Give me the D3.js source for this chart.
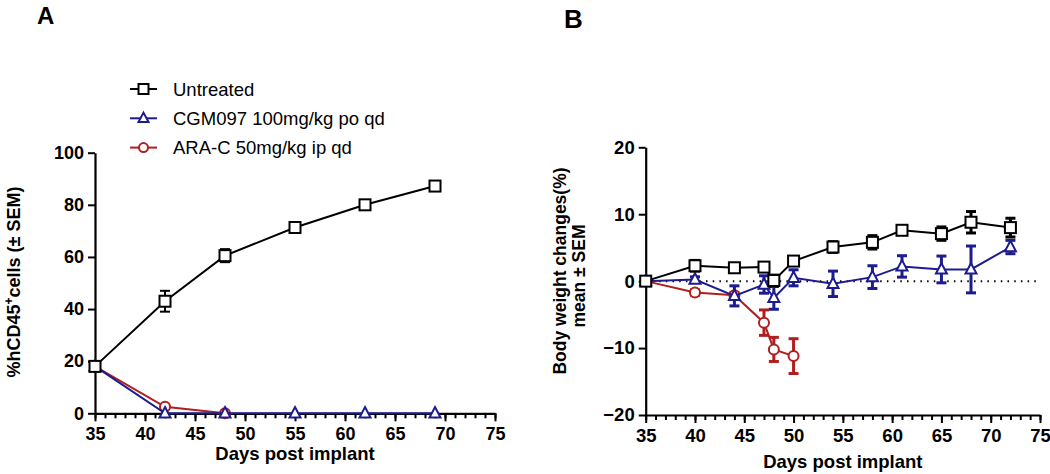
<!DOCTYPE html>
<html><head><meta charset="utf-8">
<script src="https://cdn.jsdelivr.net/npm/d3@7"></script>
<style>
body{margin:0;background:#fff;}
svg{display:block;font-family:"Liberation Sans",Arial,sans-serif;}
</style></head>
<body>
<svg id="c" width="1050" height="474"></svg>
<script>
// ---------- DATA ----------
const seriesNames = ["Untreated", "CGM097 100mg/kg po qd", "ARA-C 50mg/kg ip qd"];
const seriesColors = ["#000000", "#1c1c8f", "#b01e1e"];
const seriesShapes = ["square", "triangle", "circle"];

// Panel A: %hCD45+ cells
const daysA = [35, 42, 48, 55, 62, 69];
const untreatedA = [18, 43, 60.5, 71.3, 80, 87.2];
const untreatedAErr = [1, 4, 2.5, 1.2, 1.2, 1];
const cgmA = [18, 0, 0, 0, 0, 0];
const cgmAErr = [0, 0, 0, 0, 0, 0];
const araDaysA = [35, 42, 48];
const araA = [18, 2.5, 0];
const araAErr = [0, 0.5, 0];

// Panel B: body weight changes
const daysB = [35, 40, 44, 47, 48, 50, 54, 58, 61, 65, 68, 72];
const untreatedB = [0, 2.3, 2.0, 2.1, 0.1, 3.0, 5.1, 5.8, 7.6, 7.1, 8.8, 8.0];
const untreatedBErr = [0.3, 0.8, 0.5, 0.5, 0.8, 0.6, 0.8, 1.0, 0.5, 1.0, 1.6, 1.4];
const cgmB = [0, 0.25, -2.2, -0.5, -2.5, 0.5, -0.4, 0.6, 2.2, 1.75, 1.75, 5.1];
const cgmBErr = [0.3, 0.4, 1.5, 1.3, 1.7, 1.2, 1.9, 1.7, 1.6, 2.0, 3.5, 1.0];
const araDaysB = [35, 40, 44, 47, 48, 50];
const araB = [0, -1.7, -2.1, -6.2, -10.2, -11.2];
const araBErr = [0.3, 0.4, 0.4, 1.9, 1.8, 2.6];

const xTicks = [35, 40, 45, 50, 55, 60, 65, 70, 75];
const yTicksA = [0, 20, 40, 60, 80, 100];
const yTicksB = [-20, -10, 0, 10, 20];

// ---------- DRAW ----------
const svg = d3.select("#c");
const zip = (xs, ys, es) => xs.map((x, i) => ({x, y: ys[i], e: es[i]}));

function marker(g, shape, color, cx, cy, size) {
  const s = size;
  if (shape === "square") {
    g.append("rect").attr("x", cx - s/2).attr("y", cy - s/2).attr("width", s).attr("height", s)
      .attr("fill", "#fff").attr("stroke", color).attr("stroke-width", 2);
  } else if (shape === "triangle") {
    const h = s * 0.95;
    g.append("path").attr("d", `M${cx},${cy - h*0.6}L${cx + s/2},${cy + h*0.4}L${cx - s/2},${cy + h*0.4}Z`)
      .attr("fill", "#fff").attr("stroke", color).attr("stroke-width", 2);
  } else {
    g.append("circle").attr("cx", cx).attr("cy", cy).attr("r", s/2 - 0.5)
      .attr("fill", "#fff").attr("stroke", color).attr("stroke-width", 2);
  }
}

function panel(opt) {
  const g = svg.append("g");
  const x = d3.scaleLinear().domain([35, 75]).range(opt.xr);
  const y = d3.scaleLinear().domain(opt.yd).range(opt.yr);

  // minor x ticks
  const minor = d3.range(35, 76, 1);
  g.append("g").attr("transform", `translate(0,${opt.yr[0]})`)
    .call(d3.axisBottom(x).tickValues(minor).tickSize(5).tickSizeOuter(0).tickFormat(""))
    .call(a => a.select(".domain").remove())
    .call(a => a.selectAll("line").attr("stroke-width", 2));
  // major x axis
  g.append("g").attr("transform", `translate(0,${opt.yr[0]})`)
    .call(d3.axisBottom(x).tickValues(xTicks).tickSize(8).tickSizeOuter(0).tickPadding(6))
    .call(a => a.select(".domain").attr("stroke-width", 2.2))
    .call(a => a.selectAll("line").attr("stroke-width", 2))
    .call(a => a.selectAll("text").attr("font-size", opt.tickFont).attr("font-weight", "bold").attr("fill", "#000")
      .attr("font-family", "Liberation Sans, Arial, sans-serif"));
  // y axis
  g.append("g").attr("transform", `translate(${opt.xr[0]},0)`)
    .call(d3.axisLeft(y).tickValues(opt.yTicks).tickSize(7).tickSizeOuter(0).tickPadding(4))
    .call(a => a.select(".domain").attr("stroke-width", 2.2))
    .call(a => a.selectAll("line").attr("stroke-width", 2))
    .call(a => a.selectAll("text").attr("font-size", opt.tickFont).attr("font-weight", "bold").attr("fill", "#000")
      .attr("font-family", "Liberation Sans, Arial, sans-serif"));

  if (opt.zeroLine) {
    g.append("line").attr("x1", x(35)).attr("x2", x(75)).attr("y1", y(0)).attr("y2", y(0))
      .attr("stroke", "#000").attr("stroke-width", 2).attr("stroke-dasharray", "1.5,5.2");
  }

  const line = d3.line().x(d => x(d.x)).y(d => y(d.y));
  opt.series.forEach(s => {
    const sg = g.append("g");
    sg.append("path").datum(s.data).attr("d", line).attr("fill", "none")
      .attr("stroke", s.color).attr("stroke-width", 2);
    s.data.forEach(d => {
      if (d.e > 0) {
        const y1 = y(d.y + d.e), y2 = y(d.y - d.e), cx = x(d.x);
        sg.append("line").attr("x1", cx).attr("x2", cx).attr("y1", y1).attr("y2", y2)
          .attr("stroke", s.color).attr("stroke-width", opt.errW);
        [y1, y2].forEach(yy => sg.append("line").attr("x1", cx - opt.capW/2).attr("x2", cx + opt.capW/2)
          .attr("y1", yy).attr("y2", yy).attr("stroke", s.color).attr("stroke-width", opt.errW));
      }
    });
    s.data.forEach(d => marker(sg, s.shape, s.color, x(d.x), y(d.y), 11));
  });

  // axis title
  g.append("text").attr("x", (opt.xr[0] + opt.xr[1]) / 2).attr("y", opt.xTitleY)
    .attr("text-anchor", "middle").attr("font-size", 18.5).attr("font-weight", "bold")
    .text("Days post implant");
  return {g, x, y};
}

// Panel A
const A = panel({
  xr: [95, 495], yd: [0, 100], yr: [413.3, 152.7], yTicks: yTicksA, tickFont: 18,
  xTitleY: 460, errW: 2, capW: 10, zeroLine: false,
  series: [
    {data: zip(araDaysA, araA, araAErr), color: seriesColors[2], shape: seriesShapes[2]},
    {data: zip(daysA, cgmA, cgmAErr), color: seriesColors[1], shape: seriesShapes[1]},
    {data: zip(daysA, untreatedA, untreatedAErr), color: seriesColors[0], shape: seriesShapes[0]}
  ]
});
// y title A
const tA = svg.append("text").attr("transform", "translate(20,282) rotate(-90)")
  .attr("text-anchor", "middle").attr("font-size", 18).attr("font-weight", "bold");
tA.append("tspan").text("%hCD45");
tA.append("tspan").attr("font-size", 12).attr("dy", -7).text("+");
tA.append("tspan").attr("dy", 7).text("cells (\u00B1 SEM)");

// Panel B
const B = panel({
  xr: [645.7, 1040], yd: [-20, 20], yr: [415, 147.3], yTicks: yTicksB, tickFont: 18.5,
  xTitleY: 468, errW: 3, capW: 10, zeroLine: true,
  series: [
    {data: zip(araDaysB, araB, araBErr), color: seriesColors[2], shape: seriesShapes[2]},
    {data: zip(daysB, cgmB, cgmBErr), color: seriesColors[1], shape: seriesShapes[1]},
    {data: zip(daysB, untreatedB, untreatedBErr), color: seriesColors[0], shape: seriesShapes[0]}
  ]
});
svg.append("text").attr("transform", "translate(566,271) rotate(-90)")
  .attr("text-anchor", "middle").attr("font-size", 17.5).attr("font-weight", "bold")
  .text("Body weight changes(%)");
svg.append("text").attr("transform", "translate(585,276) rotate(-90)")
  .attr("text-anchor", "middle").attr("font-size", 17.5).attr("font-weight", "bold")
  .text("mean \u00B1 SEM");

// Panel letters
svg.append("text").attr("x", 37).attr("y", 24).attr("font-size", 24).attr("font-weight", "bold").text("A");
svg.append("text").attr("x", 564).attr("y", 28).attr("font-size", 26).attr("font-weight", "bold").text("B");

// Legend
const leg = svg.append("g");
seriesNames.forEach((name, i) => {
  const cy = 89 + i * 29.3;
  leg.append("line").attr("x1", 130).attr("x2", 157).attr("y1", cy).attr("y2", cy)
    .attr("stroke", seriesColors[i]).attr("stroke-width", 2);
  marker(leg, seriesShapes[i], seriesColors[i], 143.5, cy, 10);
  leg.append("text").attr("x", 173).attr("y", cy + 6.5).attr("font-size", 18.5).text(name);
});
</script>
</body></html>
